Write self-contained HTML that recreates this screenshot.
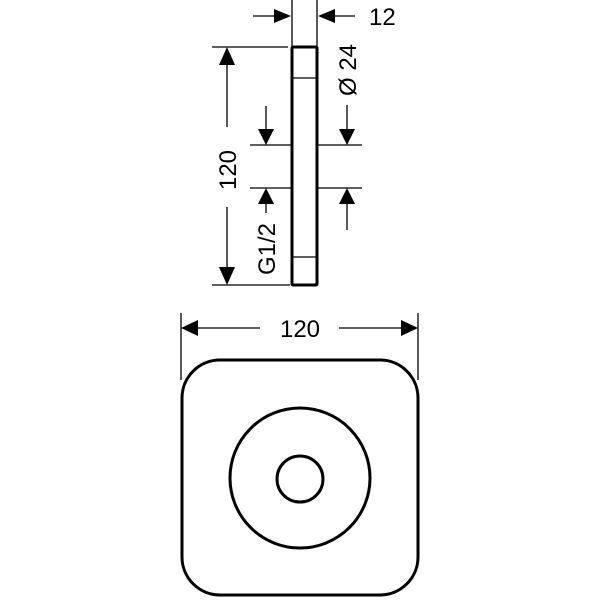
<!DOCTYPE html>
<html><head><meta charset="utf-8"><style>html,body{margin:0;padding:0;background:#fff}svg{display:block}</style></head>
<body>
<svg width="600" height="600" viewBox="0 0 600 600" xmlns="http://www.w3.org/2000/svg" font-family="Liberation Sans, sans-serif">
<g stroke="#000" fill="none" stroke-width="1.3">
  <line x1="292" y1="0" x2="292" y2="46"/>
  <line x1="317" y1="0" x2="317" y2="46"/>
  <line x1="253" y1="16" x2="275" y2="16"/>
  <line x1="335" y1="16" x2="355" y2="16"/>
  <line x1="212" y1="47" x2="288" y2="47"/>
  <line x1="212" y1="285" x2="290" y2="285"/>
  <line x1="227" y1="64" x2="227" y2="127"/>
  <line x1="227" y1="207" x2="227" y2="268"/>
  <line x1="250" y1="145" x2="292" y2="145"/>
  <line x1="250" y1="188" x2="292" y2="188"/>
  <line x1="266" y1="106" x2="266" y2="130"/>
  <line x1="266" y1="203" x2="266" y2="213"/>
  <line x1="318" y1="145" x2="362" y2="145"/>
  <line x1="318" y1="188" x2="362" y2="188"/>
  <line x1="347" y1="105" x2="347" y2="130"/>
  <line x1="347" y1="203" x2="347" y2="230"/>
  <line x1="293" y1="78" x2="316" y2="78"/>
  <line x1="293" y1="257" x2="316" y2="257"/>
  <line x1="181" y1="313" x2="181" y2="380"/>
  <line x1="418" y1="313" x2="418" y2="380"/>
  <line x1="196" y1="328" x2="260" y2="328"/>
  <line x1="339" y1="328" x2="403" y2="328"/>
</g>
<g fill="#000">
  <polygon points="291,16 274,9 274,23"/>
  <polygon points="318,16 335,9 335,23"/>
  <polygon points="227,47 219,65 235,65"/>
  <polygon points="227,285 219,267 235,267"/>
  <polygon points="266,145 258,129 274,129"/>
  <polygon points="266,188 258,204 274,204"/>
  <polygon points="347,145 339,129 355,129"/>
  <polygon points="347,188 339,204 355,204"/>
  <polygon points="181,328 198,320 198,336"/>
  <polygon points="418,328 401,320 401,336"/>
</g>
<g stroke="#000" fill="none" stroke-width="3">
  <rect x="292" y="47" width="25" height="238" rx="1"/>
  <rect x="182" y="360" width="236" height="235" rx="38"/>
  <circle cx="300" cy="478" r="70"/>
  <circle cx="300" cy="479" r="23"/>
</g>
<g fill="#000" font-size="24">
  <text x="369" y="25">12</text>
  <text x="300" y="337" text-anchor="middle">120</text>
  <text transform="translate(236,170) rotate(-90)" text-anchor="middle">120</text>
  <text transform="translate(275,249) rotate(-90)" text-anchor="middle">G1/2</text>
  <text transform="translate(356,70) rotate(-90)" text-anchor="middle">Ø 24</text>
</g>
</svg>
</body></html>
